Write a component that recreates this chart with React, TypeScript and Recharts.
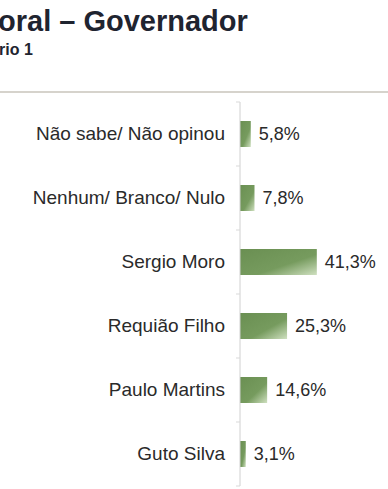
import { BarChart, Bar, XAxis, YAxis, LabelList } from "recharts";

const categories = [
  "Não sabe/ Não opinou",
  "Nenhum/ Branco/ Nulo",
  "Sergio Moro",
  "Requião Filho",
  "Paulo Martins",
  "Guto Silva",
];
const values = [5.8, 7.8, 41.3, 25.3, 14.6, 3.1];

const data = categories.map((name, i) => ({ name, value: values[i] }));

const FONT = "'Liberation Sans', Arial, sans-serif";
const PLOT_TOP = 102;
const PLOT_H = 384;
const AXIS_X = 240;
const BAND = PLOT_H / categories.length;

function CategoryTick(props: any) {
  const { x, y, payload, index } = props;
  const ax = AXIS_X;
  return (
    <g>
      <line x1={ax - 4} x2={ax} y1={y - BAND / 2} y2={y - BAND / 2} stroke="#d9d9d9" />
      {index === categories.length - 1 && (
        <line x1={ax - 4} x2={ax} y1={y + BAND / 2} y2={y + BAND / 2} stroke="#d9d9d9" />
      )}
      <text
        x={x}
        y={y}
        dy={6}
        textAnchor="end"
        fill="#2a2a2a"
        fontSize={19}
        fontFamily={FONT}
      >
        {payload.value}
      </text>
    </g>
  );
}

export default function App() {
  return (
    <div
      style={{
        position: "absolute",
        left: 0,
        top: 0,
        width: 388,
        height: 489,
        overflow: "hidden",
        background: "#fff",
        fontFamily: FONT,
      }}
    >
      <div
        style={{
          position: "absolute",
          left: -2,
          top: 5,
          fontSize: 29,
          fontWeight: "bold",
          color: "#1f2430",
          whiteSpace: "nowrap",
        }}
      >
        oral – Governador
      </div>
      <div
        style={{
          position: "absolute",
          left: -1,
          top: 41,
          fontSize: 16,
          fontWeight: "bold",
          color: "#1f2430",
          whiteSpace: "nowrap",
        }}
      >
        rio 1
      </div>
      <div
        style={{
          position: "absolute",
          left: 0,
          top: 91,
          width: 388,
          height: 2,
          background: "#d6d3cc",
        }}
      />
      <div style={{ position: "absolute", left: 0, top: 0 }}>
        <BarChart
          width={388}
          height={489}
          data={data}
          layout="vertical"
          margin={{ top: PLOT_TOP, right: 55, bottom: 489 - PLOT_TOP - PLOT_H, left: 0 }}
          barCategoryGap={0}
        >
          <defs>
            <linearGradient id="barGrad" x1="0" y1="0" x2="1" y2="1">
              <stop offset="0%" stopColor="#6a8f52" />
              <stop offset="60%" stopColor="#769b5e" />
              <stop offset="100%" stopColor="#cfe0c0" />
            </linearGradient>
          </defs>
          <XAxis type="number" domain={[0, 50]} hide />
          <YAxis
            type="category"
            dataKey="name"
            width={AXIS_X}
            axisLine={{ stroke: "#d0d0d0" }}
            tickLine={false}
            tickSize={0}
            tickMargin={15}
            tick={<CategoryTick />}
            interval={0}
          />
          <Bar dataKey="value" barSize={26} fill="url(#barGrad)" isAnimationActive={false}>
            <LabelList
              dataKey="value"
              position="right"
              offset={8}
              fill="#2a2a2a"
              fontSize={18}
              fontFamily={FONT}
              formatter={(v: any) => `${String(v).replace(".", ",")}%`}
            />
          </Bar>
        </BarChart>
      </div>
    </div>
  );
}
